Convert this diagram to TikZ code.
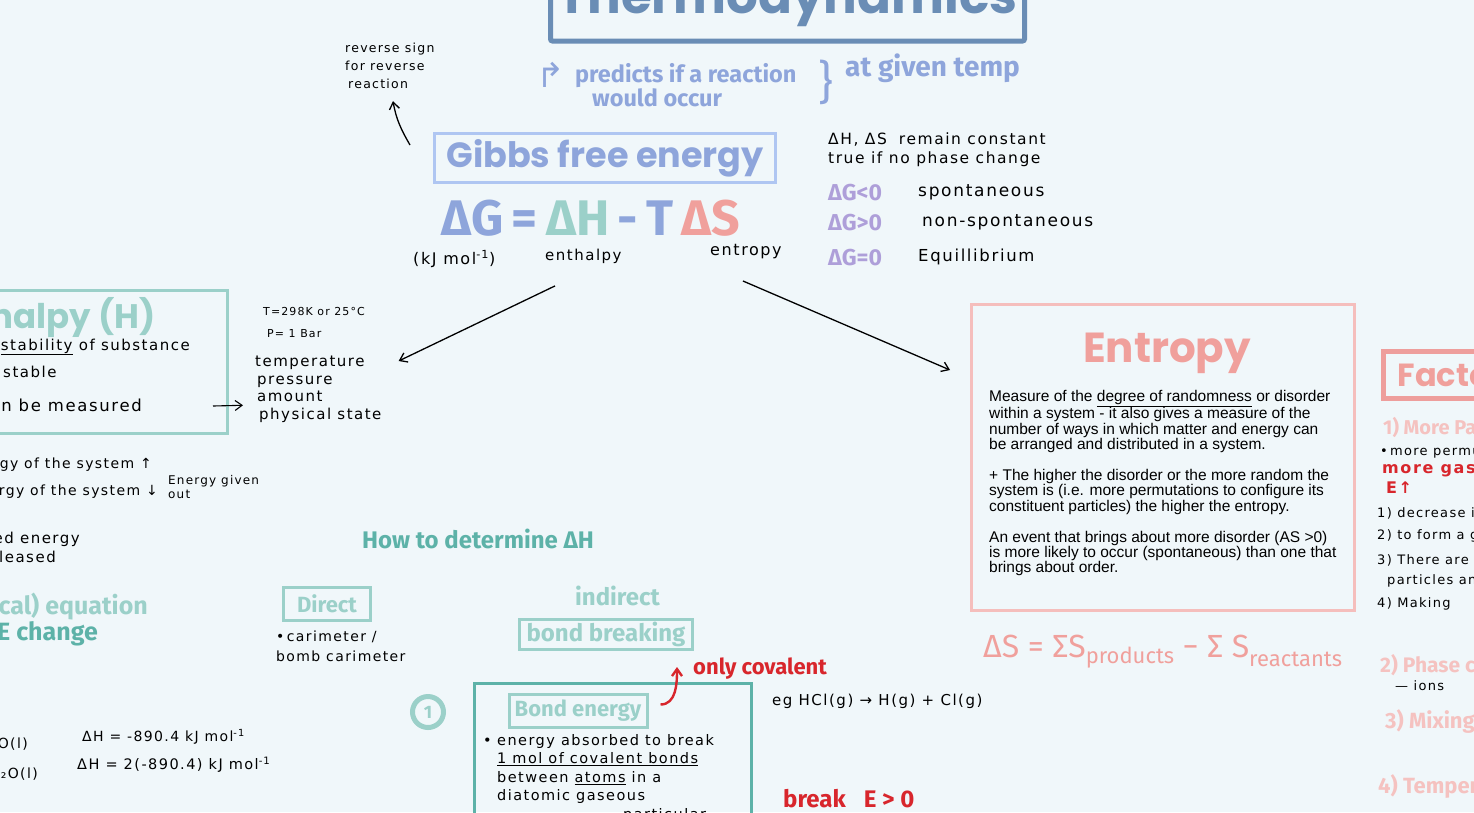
\documentclass[tikz,border=0pt]{standalone}
\usepackage{fontspec}
\setmainfont{DejaVu Sans}
\newfontfamily\notefont{DejaVu Sans}[LetterSpace=10.0]
\newfontfamily\symfont{DejaVu Sans}
\newfontfamily\handfont{Fira Sans}
\newfontfamily\headfont{Poppins}
\newfontfamily\bodyfont{Liberation Sans}
\usetikzlibrary{arrows.meta, positioning, calc}
\definecolor{pagebg}{HTML}{F0F7FA}
\definecolor{titleblue}{HTML}{6A8DB5}
\definecolor{gibbsblue}{HTML}{8EA5DB}
\definecolor{gibbsframe}{HTML}{AFC6F2}
\definecolor{tealsoft}{HTML}{9BD0C9}
\definecolor{tealdeep}{HTML}{5DB2A8}
\definecolor{entpink}{HTML}{F0A09C}
\definecolor{entframe}{HTML}{F5BEBC}
\definecolor{factframe}{HTML}{EE9E9C}
\definecolor{pinkpale}{HTML}{F5C2C0}
\definecolor{dgpurple}{HTML}{AE9FD9}
\definecolor{notered}{HTML}{D8262C}
\newcommand{\sz}[2]{\fontsize{#1}{#2}\selectfont}

\begin{document}
\begin{tikzpicture}[
  x=1pt, y=-1pt,
  note/.style={font=\notefont\sz{14}{18}, text=black, inner sep=0pt, align=left, anchor=north west},
  hand/.style={font=\handfont\bfseries\sz{24}{24}, inner sep=0pt, align=left, anchor=north west},
  redbold/.style={font=\notefont\bfseries\sz{16}{20}, text=notered, inner sep=0pt, align=left, anchor=north west},
  titlebox/.style={draw=titleblue, line width=5pt, rounded corners=2pt, text=titleblue, font=\headfont\bfseries\sz{50}{50}, minimum width=474pt, text height=40pt, text depth=16pt, inner ysep=12pt},
  gibbsbox/.style={draw=gibbsframe, line width=3pt, minimum width=341pt, minimum height=49pt, text=gibbsblue, font=\headfont\bfseries\sz{35}{35}, inner sep=0pt},
  tealbox/.style={draw=tealsoft, line width=3pt, inner sep=0pt, text=tealsoft, font=\handfont\bfseries\sz{24}{24}},
  pinkbox/.style={draw=entframe, line width=3pt, inner sep=0pt},
  headteal/.style={font=\headfont\bfseries\sz{34}{34}, text=tealsoft, inner sep=0pt},
  headpink/.style={font=\headfont\bfseries\sz{42}{42}, text=entpink, inner sep=0pt, anchor=base},
  eqn/.style={font=\handfont\bfseries\sz{50}{50}, inner sep=0pt, anchor=base},
  dgsign/.style={font=\handfont\bfseries\sz{23}{23}, text=dgpurple, inner sep=0pt, anchor=north west},
  arrow/.style={-{Straight Barb[length=7pt,width=10pt]}, line width=1.3pt, draw=black},
  redarrow/.style={-{Straight Barb[length=7pt,width=10pt]}, line width=2.4pt, draw=notered}
]
\useasboundingbox (0,0) rectangle (1474,812);
\fill[pagebg] (0,0) rectangle (1474,812);
\clip (0,0) rectangle (1474,812);

% Title and Gibbs centre
\node[titlebox, anchor=south] (title) at (787.5,43.5) {Thermodynamics};
\node[hand, font=\symfont\sz{34}{34}, text=gibbsblue] (hookarr) at (536,62) {↱};
\node[hand, font=\handfont\bfseries\sz{23.5}{19}, text=gibbsblue] (predicts) at (575,63) {predicts if a reaction\\\hspace*{17pt}would occur};
\node[font=\handfont\sz{46}{46}, text=gibbsblue, inner sep=0pt] (brace) at (826,82) {\}};
\node[hand, font=\handfont\bfseries\sz{28}{28}, text=gibbsblue] (giventemp) at (845,54) {at given temp};

\node[note, font=\notefont\sz{12.5}{18}] (revnote) at (345,43) {reverse sign\\for reverse\\\hspace*{3pt}reaction};
\node[gibbsbox] (gibbs) at (605,158) {Gibbs free energy};
\draw[arrow] ([xshift=-23pt,yshift=-13pt]gibbs.north west) to[out=120, in=-80] ([xshift=48pt,yshift=-12pt]revnote.south west);

\node[eqn] (gibbseq) at (591,235) {\textcolor{gibbsblue}{ΔG\,=\,}\textcolor{tealsoft}{ΔH}\textcolor{gibbsblue}{\,-\,T\,}\textcolor{entpink}{ΔS}};
\node[note, font=\notefont\sz{16}{18}] (unitlbl) at (413,250) {(kJ mol\textsuperscript{-1})};
\node[note, font=\notefont\sz{15}{18}] (enthlbl) at (545,249) {enthalpy};
\node[note, font=\notefont\sz{16}{18}] (entlbl) at (710,244) {entropy};

% Conditions on the right
\node[note, font=\notefont\sz{15.5}{19}] (constnote) at (828,133) {ΔH, ΔS\hspace{12pt}remain constant\\true if no phase change};
\node[dgsign] (dgneg) at (828,184) {ΔG<0};
\node[dgsign] (dgpos) at (828,214) {ΔG>0};
\node[dgsign] (dgzero) at (828,249) {ΔG=0};
\node[note, font=\notefont\sz{17}{18}] (spont) at (918,184) {spontaneous};
\node[note, font=\notefont\sz{17}{18}] (nonspont) at (922,214) {non-spontaneous};
\node[note, font=\notefont\sz{16.5}{18}] (equil) at (918,249) {Equillibrium};

% Enthalpy side
\node[tealbox, minimum width=250pt, minimum height=143pt, anchor=north east] (enthbox) at (229,289) {};
\node[headteal, anchor=base east] (enthtitle) at (156,328) {Enthalpy (H)};
\node[note, anchor=base east, font=\notefont\sz{15}{18}] (stabnote) at (190,350) {\underline{stability} of substance};
\node[note, anchor=base west, font=\notefont\sz{15}{18}] (stable) at (3,377) {stable};
\node[note, anchor=base east, font=\notefont\sz{16.5}{18}] (measured) at (142,411) {can be measured};

\node[note, font=\notefont\sz{11}{14}] (stdT) at (263,307) {T=298K or 25°C};
\node[note, font=\notefont\sz{11}{14}] (stdP) at (267,329) {P= 1 Bar};
\node[note, font=\notefont\sz{15}{17.5}] (condlist) at (255,356) {temperature\\\hspace*{2pt}pressure\\\hspace*{2pt}amount\\\hspace*{4pt}physical state};
\draw[arrow, line width=1.1pt] ([xshift=71pt,yshift=5pt]measured.base east) -- ([xshift=-12pt,yshift=-16pt]condlist.west);
\draw[arrow] ([xshift=10pt,yshift=-22pt]enthlbl.south west) -- ([xshift=17pt,yshift=-5pt]condlist.north east);

\node[note, anchor=base east] (endo) at (152,468) {energy of the system ↑};
\node[note, anchor=base east] (exo) at (158,495) {energy of the system ↓};
\node[note, font=\notefont\sz{12}{14}] (givenout) at (168,475) {Energy given\\out};
\node[note, anchor=base east, font=\notefont\sz{15}{18}] (absorbed) at (80,543) {absorbed energy};
\node[note, anchor=base east, font=\notefont\sz{15}{18}] (released) at (56,562) {released};
\node[hand, anchor=base east, text=tealsoft, font=\handfont\bfseries\sz{25}{25}] (thermoeq) at (148,614) {(thermochemical) equation};
\node[hand, anchor=base east, text=tealdeep, font=\handfont\bfseries\sz{25}{25}] (echange) at (98,640) {E change};

% How to determine dH
\node[hand, text=tealdeep] (howto) at (362,529) {How to determine ΔH};
\node[tealbox, minimum width=87pt, minimum height=33pt, font=\handfont\bfseries\sz{22}{22}] (direct) at (327,604) {Direct};
\node[note, font=\notefont\sz{14}{20}] (calori) at (276,631) {•\,carimeter /\\bomb carimeter};
\node[hand, text=tealsoft] (indirect) at (575,586) {indirect};
\node[tealbox, minimum width=173pt, minimum height=30pt] (bondbreak) at (606,634.5) {bond breaking};
\node[hand, text=notered, font=\handfont\bfseries\sz{22}{22}] (onlycov) at (693,658) {only covalent};

\node[circle, draw=tealsoft, line width=5pt, minimum size=31pt, inner sep=0pt, text=tealsoft, font=\handfont\bfseries\sz{18}{18}] (stepone) at (428,712) {1};
\node[tealbox, draw=tealdeep, anchor=north west, minimum width=277pt, minimum height=160pt] (bondbox) at (473,682) {};
\node[tealbox, minimum width=138pt, minimum height=33pt, font=\handfont\bfseries\sz{22}{22}] (bondenergy) at (578,710.5) {Bond energy};
\draw[redarrow] ([xshift=12pt,yshift=6pt]bondenergy.east) to[out=0, in=-90] ([xshift=-16pt,yshift=2pt]onlycov.west);
\node[note, font=\notefont\sz{14.5}{18.5}] (bonddef) at (483,734) {\makebox[14pt][l]{•}energy absorbed to break\\\hspace*{14pt}\underline{1 mol of covalent bonds}\\\hspace*{14pt}between \underline{atoms} in a\\\hspace*{14pt}diatomic gaseous\\\hspace*{140pt}particular};
\node[note, font=\notefont\sz{15}{18}] (hclnote) at (772,694) {eg HCl(g) → H(g) + Cl(g)};
\node[hand, text=notered] (breakE) at (783,789) {break\hspace{18pt}E > 0};

\node[note, anchor=base east] (water1) at (28,748) {2H₂O(l)};
\node[note, anchor=base east] (water2) at (38,778) {4H₂O(l)};
\node[note] (dh1) at (82,729) {ΔH = -890.4 kJ mol\textsuperscript{-1}};
\node[note, font=\notefont\sz{14.5}{18}] (dh2) at (77,757) {ΔH = 2(-890.4) kJ mol\textsuperscript{-1}};

% Entropy side
\node[pinkbox, anchor=north west, minimum width=383pt, minimum height=306pt] (entbox) at (970,303) {};
\draw[arrow] ([xshift=-39pt,yshift=-22pt]entlbl.south east) -- ([xshift=-20pt,yshift=-67pt]entbox.north west);
\node[headpink] (enttitle) at (1167,362) {Entropy};
\node[font=\bodyfont\sz{15.5}{15.4}, inner sep=0pt, align=left, anchor=north west] (entdef) at (989,390) {Measure of the \underline{degree of randomness} or disorder\\
within a system - it also gives a measure of the\\
number of ways in which matter and energy can\\
be arranged and distributed in a system.\\[15.4pt]
+ The higher the disorder or the more random the\\
system is (i.e. more permutations to configure its\\
constituent particles) the higher the entropy.\\[15.4pt]
An event that brings about more disorder (AS >0)\\
is more likely to occur (spontaneous) than one that\\
brings about order.};
\node[hand, text=entpink, font=\handfont\sz{32}{32}, anchor=base west] (entformula) at (983,657) {ΔS = ΣS\raisebox{-6pt}{\sz{22}{22}products} − Σ S\raisebox{-9pt}{\sz{22}{22}reactants}};

% Factors column
\node[draw=factframe, line width=5pt, inner ysep=0pt, inner xsep=14pt, minimum height=47pt, text width=180pt, align=left, anchor=north west, text=entpink, font=\headfont\bfseries\sz{32}{32}] (factbox) at (1381,349) {Factors};
\node[hand, text=pinkpale, font=\handfont\bfseries\sz{20}{20}] (morepart) at (1383,417) {1) More Particles};
\node[note, font=\notefont\sz{13}{16}] (permu) at (1380,445) {•\,more permutations};
\node[redbold] (moregas) at (1382,461) {more gas particles\\\hspace*{4pt}E↑};
\node[note, font=\notefont\sz{13}{16}] (fact1) at (1377,507) {1) decrease in volume};
\node[note, font=\notefont\sz{13}{16}] (fact2) at (1377,529) {2) to form a gas};
\node[note, font=\notefont\sz{13}{20}] (fact3) at (1377,554) {3) There are more\\\hspace*{10pt}particles and};
\node[note, font=\notefont\sz{13}{16}] (fact4) at (1377,597) {4) Making};
\node[hand, text=pinkpale, font=\handfont\bfseries\sz{21}{21}] (phase) at (1380,654) {2) Phase change};
\node[note, font=\notefont\sz{13}{16}] (ions) at (1395,680) {— ions};
\node[hand, text=pinkpale, font=\handfont\bfseries\sz{22}{22}] (mixing) at (1385,709) {3) Mixing};
\node[hand, text=pinkpale, font=\handfont\bfseries\sz{22}{22}] (temper) at (1378,774) {4) Temperature};
\end{tikzpicture}
\end{document}
